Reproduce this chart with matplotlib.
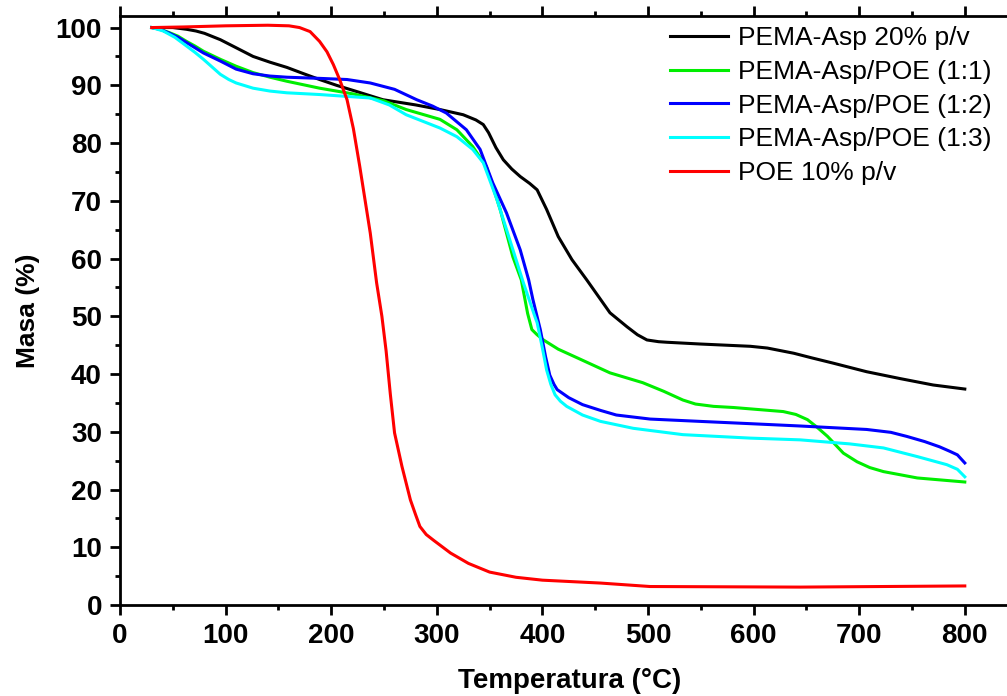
import matplotlib
matplotlib.use("Agg")
from matplotlib import pyplot as plt
from matplotlib.ticker import MultipleLocator

plt.rcParams['font.family'] = ['Liberation Sans', 'DejaVu Sans']

# PEMA-Asp 20% p/v
t_black = [30, 50, 63, 72, 80, 95, 110, 126, 142, 158, 174, 189, 205, 221, 249, 280,
           303, 325, 337, 344, 349, 356, 363, 371, 379, 388, 395, 404, 415, 428,
           442, 464, 480, 490, 499, 510, 518, 549, 597, 613, 638, 655, 675, 707,
           739, 770, 800]
m_black = [100, 100, 99.7, 99.4, 99.0, 97.9, 96.5, 95.0, 94.0, 93.1, 92.0, 91.0,
           90.0, 89.1, 87.5, 86.6, 85.8, 84.9, 84.0, 83.2, 81.8, 79.2, 77.1, 75.5,
           74.2, 73.0, 71.9, 68.5, 63.8, 59.8, 56.3, 50.6, 48.2, 46.8, 45.9, 45.6,
           45.5, 45.2, 44.8, 44.5, 43.6, 42.8, 41.9, 40.4, 39.2, 38.1, 37.4]

# PEMA-Asp/POE (1:1)
t_green = [30, 38, 47, 55, 63, 71, 79, 87, 95, 110, 126, 142, 158, 189, 221, 250,
           271, 303, 319, 334, 347, 360, 372, 380, 386, 390, 395, 401, 415, 433,
           464, 495, 515, 533, 545, 562, 581, 628, 640, 651, 660, 670, 685, 698,
           710, 723, 755, 800]
m_green = [100, 99.7, 99.1, 98.5, 97.6, 96.8, 95.9, 95.2, 94.5, 93.3, 92.2, 91.4,
           90.7, 89.5, 88.5, 87.3, 85.8, 84.1, 82.3, 79.4, 75.9, 68.5, 60.3, 56.3,
           50.5, 47.7, 46.8, 45.9, 44.3, 42.8, 40.2, 38.5, 37.0, 35.5, 34.8, 34.4,
           34.2, 33.5, 33.0, 32.1, 30.8, 29.2, 26.3, 24.8, 23.8, 23.1, 22.0, 21.3]

# PEMA-Asp/POE (1:2)
t_blue = [30, 38, 47, 55, 63, 71, 79, 87, 95, 110, 126, 142, 158, 189, 215, 237,
          260, 281, 296, 309, 328, 341, 353, 366, 379, 387, 391, 398, 403, 407,
          411, 414, 425, 438, 455, 470, 502, 549, 597, 644, 707, 730, 745, 762,
          776, 786, 793, 800]
m_blue = [100, 99.7, 99.0, 98.3, 97.4, 96.5, 95.6, 94.9, 94.2, 92.8, 92.0, 91.6,
          91.4, 91.2, 91.0, 90.4, 89.3, 87.5, 86.4, 85.2, 82.3, 78.9, 73.1, 67.9,
          61.5, 56.3, 52.9, 47.7, 43.0, 39.8, 38.2, 37.3, 35.9, 34.7, 33.7, 32.9,
          32.2, 31.8, 31.4, 31.0, 30.4, 29.9, 29.2, 28.3, 27.4, 26.6, 26.0, 24.6]

# PEMA-Asp/POE (1:3)
t_cyan = [30, 41, 52, 63, 71, 79, 87, 95, 103, 110, 126, 142, 158, 189, 237, 255,
          271, 303, 319, 334, 344, 357, 369, 382, 393, 395, 400, 404, 408, 412,
          417, 423, 438, 455, 486, 533, 597, 644, 691, 723, 755, 783, 793, 800]
m_cyan = [100, 99.4, 98.3, 96.8, 95.7, 94.5, 93.2, 91.9, 91.0, 90.4, 89.5, 89.0,
          88.7, 88.4, 87.8, 86.6, 84.9, 82.6, 81.1, 78.9, 76.6, 70.2, 63.3, 55.8,
          49.9, 48.9, 44.5, 40.7, 38.2, 36.4, 35.3, 34.4, 32.9, 31.8, 30.6, 29.5,
          28.9, 28.6, 27.9, 27.2, 25.7, 24.3, 23.5, 22.2]

# POE 10% p/v
t_red = [30, 60, 100, 140, 160, 170, 180, 189, 196, 202, 208, 215, 221, 227, 237,
         243, 248, 252, 256, 260, 267, 275, 280, 284, 290, 297, 313, 330, 350, 375,
         400, 455, 502, 644, 800]
m_red = [100, 100.1, 100.3, 100.4, 100.3, 100.0, 99.3, 97.6, 95.8, 93.6, 91.0, 87.5,
         82.5, 76.0, 64.4, 55.8, 50.0, 44.0, 36.5, 29.8, 24.0, 18.2, 15.6, 13.6,
         12.2, 11.2, 9.0, 7.2, 5.7, 4.8, 4.3, 3.8, 3.2, 3.1, 3.3]

series = [
    (t_black, m_black, 'black', 'PEMA-Asp 20% p/v'),
    (t_green, m_green, '#00ee00', 'PEMA-Asp/POE (1:1)'),
    (t_blue, m_blue, '#0000ff', 'PEMA-Asp/POE (1:2)'),
    (t_cyan, m_cyan, '#00ffff', 'PEMA-Asp/POE (1:3)'),
    (t_red, m_red, '#ff0000', 'POE 10% p/v'),
]

W, H = 1007, 696
fig = plt.figure(figsize=(W / 100, H / 100), dpi=100)
# axes: left spine at x=120px, bottom at y=605px, top at y=16px
x0, x1 = 120, 120 + 852 * 1.056
ax = fig.add_axes([x0 / W, (H - 605) / H, (x1 - x0) / W, (605 - 16) / H])

for t, m, c, lab in series:
    ax.plot(t, m, color=c, lw=2.2, label=lab, solid_joinstyle='round')

ax.set_xlim(0, 852)
ax.set_ylim(0, 102)
ax.xaxis.set_major_locator(MultipleLocator(100))
ax.xaxis.set_minor_locator(MultipleLocator(50))
ax.yaxis.set_major_locator(MultipleLocator(10))
ax.yaxis.set_minor_locator(MultipleLocator(5))

for s in ax.spines.values():
    s.set_linewidth(2)
ax.spines['right'].set_visible(False)

ax.tick_params(which='major', direction='out', length=7, width=2,
               labelsize=20, pad=6)
ax.tick_params(which='minor', direction='out', length=3.6, width=2)
ax.tick_params(which='both', top=True, labeltop=False)
for lab in ax.get_xticklabels() + ax.get_yticklabels():
    lab.set_fontweight('bold')

ax.set_xlabel('Temperatura (°C)', fontsize=20, fontweight='bold', labelpad=14)
ax.set_ylabel('Masa (%)', fontsize=19, fontweight='bold', labelpad=11)

leg = ax.legend(loc='upper left', bbox_to_anchor=(670 / W, 1 - 26 / H),
                bbox_transform=fig.transFigure, frameon=False, fontsize=19,
                handlelength=2.2, handletextpad=0.38, labelspacing=0.37,
                borderpad=0, borderaxespad=0)
for line in leg.get_lines():
    line.set_linewidth(2.2)

fig.savefig('out.png', dpi=100)
